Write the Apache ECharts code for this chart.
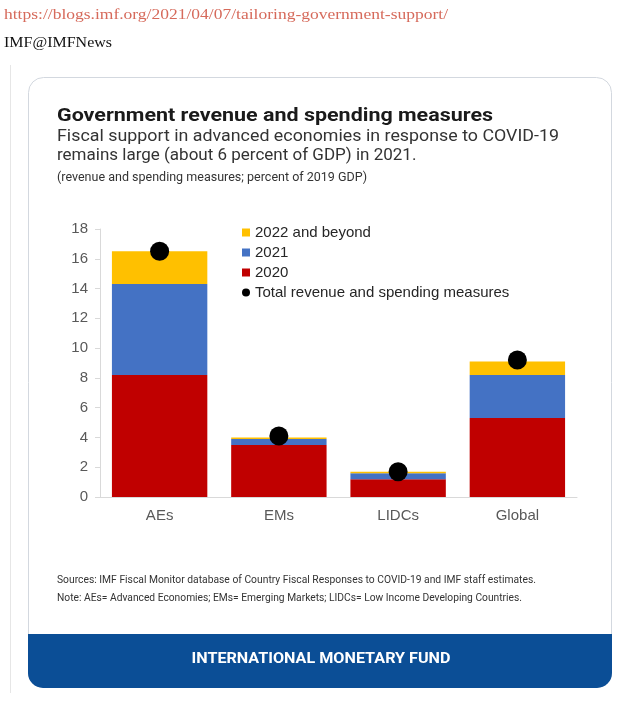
<!DOCTYPE html>
<html><head><meta charset="utf-8">
<script src="https://cdn.jsdelivr.net/npm/echarts@6/dist/echarts.min.js"></script>
<style>html,body{margin:0;padding:0;background:#fff}#c{width:622px;height:703px}</style>
</head><body><div id="c"></div>
<script>
const categories = ['AEs', 'EMs', 'LIDCs', 'Global'];
const s2020 = [8.2, 3.5, 1.2, 5.3];
const s2021 = [6.1, 0.4, 0.4, 2.9];
const s2022 = [2.2, 0.1, 0.1, 0.9];
const totals = [16.5, 4.1, 1.7, 9.2];
const yTicks = { min: 0, max: 18, interval: 2 };

const names = ['2022 and beyond', '2021', '2020', 'Total revenue and spending measures'];

const cv = document.createElement('canvas').getContext('2d');
function fit(text, size, weight, family, w) {
  cv.font = weight + ' ' + size + 'px ' + family;
  return w / cv.measureText(text).width;
}
function txt(text, x, y, size, weight, family, color, w, align) {
  const s = w ? fit(text, size, weight, family, w) : 1;
  return { type: 'text', x: x, y: y, scaleX: s, z: 100,
    style: { text: text, fontSize: size, fontWeight: weight, fontFamily: family, fill: color,
      align: align || 'left', verticalAlign: 'middle' } };
}
const RB = 'Roboto';
const chart = echarts.init(document.getElementById('c'), null, { renderer: 'canvas' });
chart.setOption({
  animation: false,
  backgroundColor: '#fff',
  grid: { left: 100, right: 45, top: 229, bottom: 206 },
  legend: {
    orient: 'vertical', left: 242, top: 225, padding: 0, itemWidth: 8, itemHeight: 8, itemGap: 5,
    textStyle: { fontFamily: 'Liberation Sans', fontSize: 15, color: '#262626', lineHeight: 15 },
    data: [
      { name: names[0], icon: 'rect' }, { name: names[1], icon: 'rect' },
      { name: names[2], icon: 'rect' }, { name: names[3], icon: 'circle', itemStyle: { opacity: 1 } }
    ]
  },
  xAxis: {
    type: 'category', data: categories,
    axisLine: { lineStyle: { color: '#d9d9d9' } }, axisTick: { show: false },
    axisLabel: { fontFamily: 'Liberation Sans', fontSize: 15, color: '#595959', margin: 11 }
  },
  yAxis: {
    type: 'value', min: yTicks.min, max: yTicks.max, interval: yTicks.interval,
    splitLine: { show: false },
    axisLine: { show: true, lineStyle: { color: '#d9d9d9' } },
    axisTick: { show: true, length: 5, lineStyle: { color: '#d9d9d9' } },
    axisLabel: { fontFamily: 'Liberation Sans', fontSize: 15, color: '#595959', margin: 12 }
  },
  series: [
    { name: names[2], type: 'bar', stack: 't', data: s2020, barWidth: '80%', itemStyle: { color: '#C00000' } },
    { name: names[1], type: 'bar', stack: 't', data: s2021, itemStyle: { color: '#4472C4' } },
    { name: names[0], type: 'bar', stack: 't', data: s2022, itemStyle: { color: '#FFC000' } },
    { name: names[3], type: 'scatter', data: totals, symbolSize: 19, z: 10, itemStyle: { color: '#000', opacity: 1 } }
  ],
  graphic: [
    { type: 'rect', z: -10, shape: { x: 10, y: 65, width: 1, height: 628 }, style: { fill: '#e6e6e6' } },
    { type: 'rect', z: -10, shape: { x: 28.5, y: 77.5, width: 583, height: 610, r: 15 }, style: { fill: '#fff', stroke: '#d3d8df', lineWidth: 1 } },
    { type: 'rect', z: -9, shape: { x: 28, y: 634, width: 584, height: 54, r: [0, 0, 15, 15] }, style: { fill: '#0b4e96' } },
    txt('https://blogs.imf.org/2021/04/07/tailoring-government-support/', 4, 15, 15, 'normal', 'Liberation Serif', '#d66a5b', 444),
    txt('IMF@IMFNews', 4, 43, 15, 'normal', 'Liberation Serif', '#111', 108),
    txt('Government revenue and spending measures', 57, 116.5, 19, 'bold', RB, '#1a1a1a', 436),
    txt('Fiscal support in advanced economies in response to COVID-19', 57, 136.6, 17, 'normal', RB, '#333', 502),
    txt('remains large (about 6 percent of GDP) in 2021.', 57, 155.6, 17, 'normal', RB, '#333', null),
    txt('(revenue and spending measures; percent of 2019 GDP)', 57, 178, 12, 'normal', RB, '#333', 310),
    txt('Sources: IMF Fiscal Monitor database of Country Fiscal Responses to COVID-19 and IMF staff estimates.', 57, 580, 11.5, 'normal', RB, '#333', 479),
    txt('Note: AEs= Advanced Economies; EMs= Emerging Markets; LIDCs= Low Income Developing Countries.', 57, 598, 11.5, 'normal', RB, '#333', 465),
    txt('INTERNATIONAL MONETARY FUND', 321, 659, 14, 'bold', RB, '#fff', 259, 'center')
  ]
});
</script></body></html>
